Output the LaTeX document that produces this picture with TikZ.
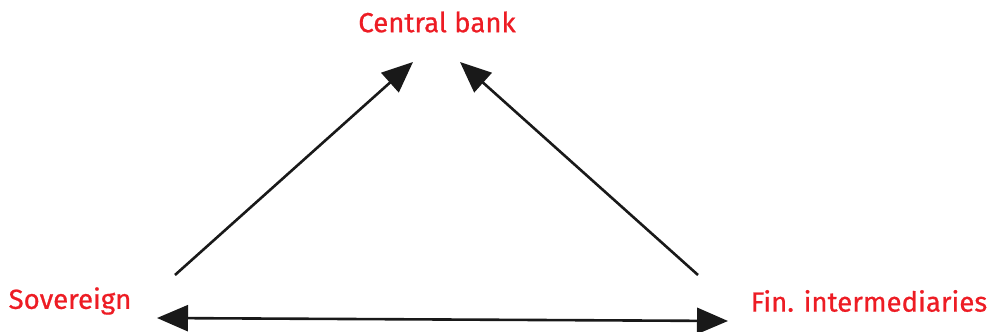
\documentclass[tikz,border=0pt]{standalone}
\usepackage{fontspec}
\setmainfont{Fira Sans}
\newfontfamily\actorfont{Fira Sans}[FakeBold=0.7]
\usetikzlibrary{positioning,calc}
\usetikzlibrary{arrows.meta}
\definecolor{BankRed}{RGB}{237,28,36}
\tikzset{
  actor/.style={text=BankRed,inner sep=0pt,font=\actorfont\fontsize{27.6}{30}\selectfont},
  link/.style={draw=black!90,line width=2.6pt,-{Triangle[length=31pt,width=26pt]}},
  both/.style={draw=black!90,line width=2.6pt,{Triangle[length=31pt,width=26pt]}-{Triangle[length=31pt,width=26pt]}},
}
\begin{document}
\begin{tikzpicture}[x=1pt,y=-1pt]
\useasboundingbox (0,0) rectangle (994,332);
\node[actor] (bank) at (437,22) {Central bank};
\node[actor] (sov) at (70,301) {Sovereign};
\node[actor] (fin) at (869,301) {Fin. intermediaries};
\coordinate (s1) at (175,275);
\coordinate (s2) at (413,62);
\coordinate (f1) at (698,275);
\coordinate (f2) at (460,62);
\coordinate (b1) at (157,318);
\coordinate (b2) at (728,321);
\draw[link] (s1)--(s2);
\draw[link] (f1)--(f2);
\draw[both] (b1)--(b2);
\end{tikzpicture}
\end{document}
